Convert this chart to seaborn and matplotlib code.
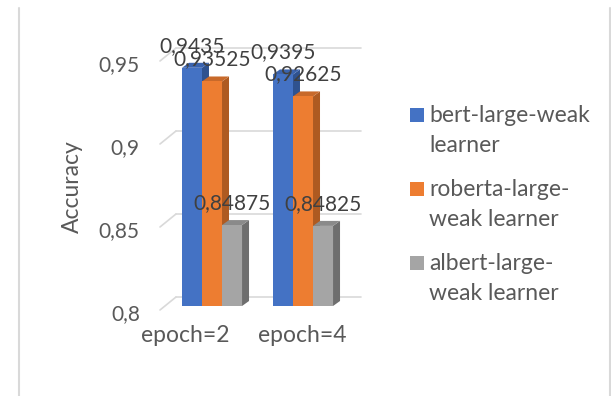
import matplotlib
matplotlib.use("Agg")
import matplotlib.pyplot as plt
from matplotlib.patches import Polygon, Rectangle
from matplotlib.lines import Line2D
from matplotlib import transforms as mtransforms
import seaborn as sns
import pandas as pd

# ---- data -------------------------------------------------------------
epochs = ["epoch=2", "epoch=4"]
models = ["bert-large-weak learner", "roberta-large-weak learner", "albert-large-weak learner"]
legend_labels = ["bert-large-weak\nlearner", "roberta-large-\nweak learner", "albert-large-\nweak learner"]
bert_acc = [0.9435, 0.9395]
roberta_acc = [0.93525, 0.92625]
albert_acc = [0.84875, 0.84825]
yticks = [0.8, 0.85, 0.9, 0.95]
ytick_labels = ["0,8", "0,85", "0,9", "0,95"]

colors = ["#4472C4", "#ED7D31", "#A5A5A5"]
side_colors = ["#2F528F", "#AE5A21", "#6E6E6E"]
top_colors = ["#3A63AE", "#C8692A", "#8A8A8A"]

series = [bert_acc, roberta_acc, albert_acc]
df = pd.DataFrame({
    "epoch": [e for _ in models for e in epochs],
    "model": [m for m in models for _ in epochs],
    "accuracy": [v for s in series for v in s],
})

sns.set_theme(style="white")
plt.rcParams["font.family"] = ["Lato", "DejaVu Sans"]

W, H = 611, 396
fig = plt.figure(figsize=(W / 100, H / 100), dpi=100)
fig.patch.set_facecolor("white")

NUM_FS = 15      # numbers
TXT_FS = 16.5    # words
text_col = "#595959"

# plot area (front wall), in pixels from the top-left corner
ax_left, ax_right, ax_top, ax_bottom = 160, 345, 57, 306
ax = fig.add_axes([ax_left / W, (H - ax_bottom) / H,
                   (ax_right - ax_left) / W, (ax_bottom - ax_top) / H])
ax.set_facecolor("none")

sns.barplot(data=df, x="epoch", y="accuracy", hue="model", palette=colors,
            saturation=1, width=0.66, dodge=True, legend=False,
            linewidth=0, ax=ax, zorder=2)

xlo = -(212 - ax_left) / 91
xhi = 1 + (ax_right - 303) / 91
ax.set_xlim(xlo, xhi)
ax.set_ylim(0.8, 0.95)
for s in ax.spines.values():
    s.set_visible(False)
ax.grid(False)

ax.set_yticks(yticks)
ax.set_yticklabels(ytick_labels)
ax.tick_params(axis="y", length=0, pad=14.5, labelsize=NUM_FS, labelcolor=text_col)
ax.tick_params(axis="x", length=0, pad=13.5, labelsize=TXT_FS, labelcolor=text_col)
ax.set_xlabel("")
ax.set_ylabel("Accuracy", fontsize=TXT_FS, color=text_col)
ax.yaxis.set_label_coords((83 - ax_left) / (ax_right - ax_left),
                          (ax_bottom - 187) / (ax_bottom - ax_top))

# tick labels sit on the front edge of the 3-D side wall
down = mtransforms.ScaledTranslation(0, -6 / 100, fig.dpi_scale_trans)
for lab in ax.get_yticklabels():
    lab.set_transform(lab.get_transform() + down)
for lab, dx in zip(ax.get_xticklabels(), [-27, -1]):
    lab.set_transform(lab.get_transform() +
                      mtransforms.ScaledTranslation(dx / 100, 0, fig.dpi_scale_trans))

ident = mtransforms.IdentityTransform()
to_px = ax.transData.transform

# gridlines on the back wall and the left side wall
grid_col = "#D9D9D9"
for v in yticks:
    xl, yf = to_px((xlo, v))
    xr, _ = to_px((xhi, v))
    back = Line2D([xl + 16, xr + 16], [yf + 9, yf + 9], color=grid_col, lw=1.2,
                  transform=ident, zorder=0.5, clip_on=False)
    side = Line2D([xl, xl + 16], [yf - 4, yf + 9], color=grid_col, lw=1.2,
                  transform=ident, zorder=0.5, clip_on=False)
    ax.add_line(back)
    ax.add_line(side)

# depth faces (right side and top) for each bar
ddx, ddy = 7, 5
for ci, cont in enumerate(ax.containers):
    for p in cont.patches:
        x0 = p.get_x()
        x1 = x0 + p.get_width()
        top = p.get_y() + p.get_height()
        px0, py0 = to_px((x0, 0.8))
        px1, py1 = to_px((x1, top))
        side = Polygon([(px1, py0), (px1 + ddx, py0 + ddy), (px1 + ddx, py1 + ddy), (px1, py1)],
                       closed=True, facecolor=side_colors[ci], edgecolor="none",
                       transform=ident, zorder=1.5, clip_on=False)
        topf = Polygon([(px0, py1), (px0 + ddx, py1 + ddy), (px1 + ddx, py1 + ddy), (px1, py1)],
                       closed=True, facecolor=top_colors[ci], edgecolor="none",
                       transform=ident, zorder=1.5, clip_on=False)
        ax.add_patch(side)
        ax.add_patch(topf)

# value labels
for cont, vals in zip(ax.containers, series):
    texts = ax.bar_label(cont, labels=[str(v).replace(".", ",") for v in vals],
                         padding=11.5, fontsize=NUM_FS, color="#404040")
    for t in texts:
        t.set_va("baseline")

# legend: colour square beside a two-line label
for i, (lab, col) in enumerate(zip(legend_labels, colors)):
    base = 122 + 74 * i
    fig.patches.append(Rectangle((410 / W, (H - base) / H), 14 / W, 14 / H,
                                 transform=fig.transFigure, facecolor=col,
                                 edgecolor="none", figure=fig))
    for j, line in enumerate(lab.split("\n")):
        fig.text(429 / W, (H - base - 30 * j) / H, line, fontsize=TXT_FS,
                 color=text_col, va="baseline", ha="left")

# chart frame edges
fig.add_artist(Line2D([18.5 / W, 18.5 / W], [0, (H - 8) / H], color="#D9D9D9",
                      lw=1.5, transform=fig.transFigure))
fig.add_artist(Line2D([609.5 / W, 609.5 / W], [0, (H - 8) / H], color="#D9D9D9",
                      lw=1.5, transform=fig.transFigure))

fig.savefig("out.png", dpi=100)
